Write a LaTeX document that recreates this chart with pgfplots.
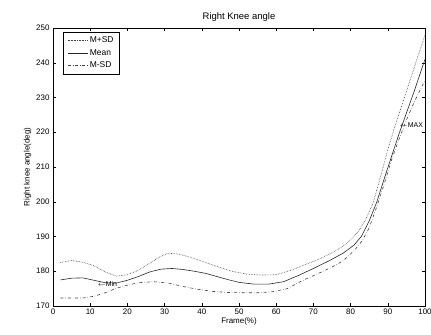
\documentclass[border=0pt]{standalone}
\usepackage{pgfplots}
\pgfplotsset{compat=1.18}
\usepackage{fontspec}
\setmainfont{Liberation Sans}
\begin{document}
\begin{tikzpicture}
\begin{axis}[
  at={(0,0)}, anchor=south west,
  scale only axis,
  width=372bp, height=278bp,
  xmin=0, xmax=100, ymin=170, ymax=250,
  xtick={0,10,...,100}, ytick={170,180,...,250},
  tick align=inside, tick pos=both,
  major tick length=3bp,
  tick style={black, line width=0.4pt},
  axis line style={black, line width=0.5pt},
  tick label style={font=\fontsize{8}{9}\selectfont},
  xticklabel style={yshift=1bp},
  /pgf/number format/assume math mode=true,
  title={Right Knee angle},
  title style={font=\fontsize{9.5}{11}\selectfont, yshift=-3bp},
  xlabel={Frame(\%)},
  ylabel={Right knee angle(deg)},
  label style={font=\fontsize{8}{9}\selectfont},
  xlabel style={yshift=3bp},
  ylabel style={yshift=-2bp},
  legend style={at={(0.027,0.986)}, anchor=north west, draw=black, line width=0.4pt,
    font=\fontsize{8.5}{10}\selectfont, row sep=1pt, inner xsep=4pt, inner ysep=3pt},
  legend image code/.code={\draw[#1] (0bp,0bp) -- (20bp,0bp);},
  legend cell align=left,
  clip=false,
]
\addplot[black!75, densely dotted, line width=0.6pt] coordinates {
(2,182.5)(5,183.1)(8,182.6)(11,181.6)(14,179.8)(17,178.6)(20,179.0)(23,180.3)
(26,182.3)(29,184.3)(31,185.2)(34,184.9)(37,184.0)(40,182.9)(44,181.4)(48,180.0)
(52,179.2)(56,178.9)(60,179.0)(64,180.3)(68,182.0)(72,183.7)(76,185.9)(79,188.0)
(82,191.3)(84,194.8)(86,199.5)(88,207)(90,215)(92,222)(94,228.5)(96,235)(98,241.5)(100,248)
};
\addlegendentry{M+SD}
\addplot[black!85, line width=0.6pt] coordinates {
(2,177.5)(5,178.0)(8,178.1)(11,177.4)(14,176.7)(17,176.6)(20,177.4)(23,178.5)
(26,179.8)(29,180.6)(32,180.8)(35,180.5)(38,180.0)(41,179.4)(44,178.5)(47,177.6)
(50,176.8)(54,176.3)(58,176.3)(62,177.0)(66,178.8)(70,180.8)(74,182.9)(78,185.2)
(81,187.6)(83,190.2)(85,194.5)(87,199.8)(89,206.5)(91,213)(93,219.5)(95,225.5)(97,231.5)(100,241)
};
\addlegendentry{Mean}
\addplot[black!75, dashdotted, line width=0.6pt] coordinates {
(2,172.3)(5,172.3)(8,172.3)(11,172.8)(14,173.8)(17,175.1)(20,176.0)(23,176.7)
(27,177.0)(31,176.6)(35,175.6)(39,174.8)(43,174.2)(47,173.9)(51,173.8)(55,173.8)
(59,174.1)(63,175.0)(67,177.3)(71,179.2)(75,181.2)(78,183.0)(81,186.0)(83,188.6)
(85,192.5)(87,198.5)(89,205)(91,212)(93,218)(95,223.5)(97,228.5)(100,235)
};
\addlegendentry{M-SD}
\node[anchor=west, font=\fontsize{7}{8}\selectfont, inner sep=0pt] at (axis cs:12,176.3) {$\leftarrow$Min};
\node[anchor=west, font=\fontsize{7}{8}\selectfont, inner sep=0pt] at (axis cs:93.2,222) {$\leftarrow$MAX};
\end{axis}
\pgfresetboundingbox
\path[use as bounding box] (-53bp,-29bp) rectangle (378bp,306bp);
\end{tikzpicture}
\end{document}
